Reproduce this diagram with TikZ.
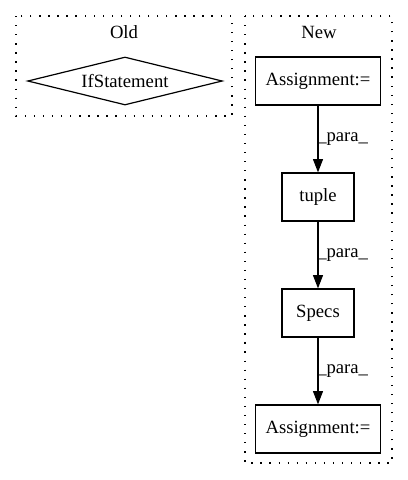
\documentclass[tikz,border=0pt]{standalone}
\usepackage{fontspec}
\setmainfont{Liberation Serif}
\usetikzlibrary{shapes.geometric,arrows.meta}
\begin{document}
\begin{tikzpicture}[x=0.75pt,y=-0.75pt,
  every node/.style={font=\fontsize{14}{16}\selectfont, inner sep=0pt},
  box/.style={draw, line width=0.9pt, rectangle, minimum height=36pt},
  cluster/.style={draw, line width=1pt, dash pattern=on 1pt off 5.8pt},
  edge/.style={line width=0.9pt, -{Triangle[length=10pt,width=7.5pt]}},
  lbl/.style={anchor=west}]
\useasboundingbox (0,0) rectangle (408,480);
\draw[cluster] (16,16) rectangle (232,116);
\draw[cluster] (245,16) rectangle (392,463);
\node (old) at (124,32) {Old};
\node (new) at (319,32) {New};
\node[draw, line width=0.9pt, diamond, aspect=4.06, minimum width=146pt, minimum height=36pt] (if) at (125,81) {IfStatement};
\node[box, minimum width=94pt] (a1) at (318,81) {Assignment:=};
\node[box, minimum width=54pt] (tu) at (318,197) {tuple};
\node[box, minimum width=54pt] (sp) at (318,313) {Specs};
\node[box, minimum width=94pt] (a2) at (318,429) {Assignment:=};
\draw[edge] (a1) -- node[lbl, xshift=-1pt] {\_para\_} (tu);
\draw[edge] (tu) -- node[lbl, xshift=-1pt] {\_para\_} (sp);
\draw[edge] (sp) -- node[lbl, xshift=-1pt] {\_para\_} (a2);
\end{tikzpicture}
\end{document}
